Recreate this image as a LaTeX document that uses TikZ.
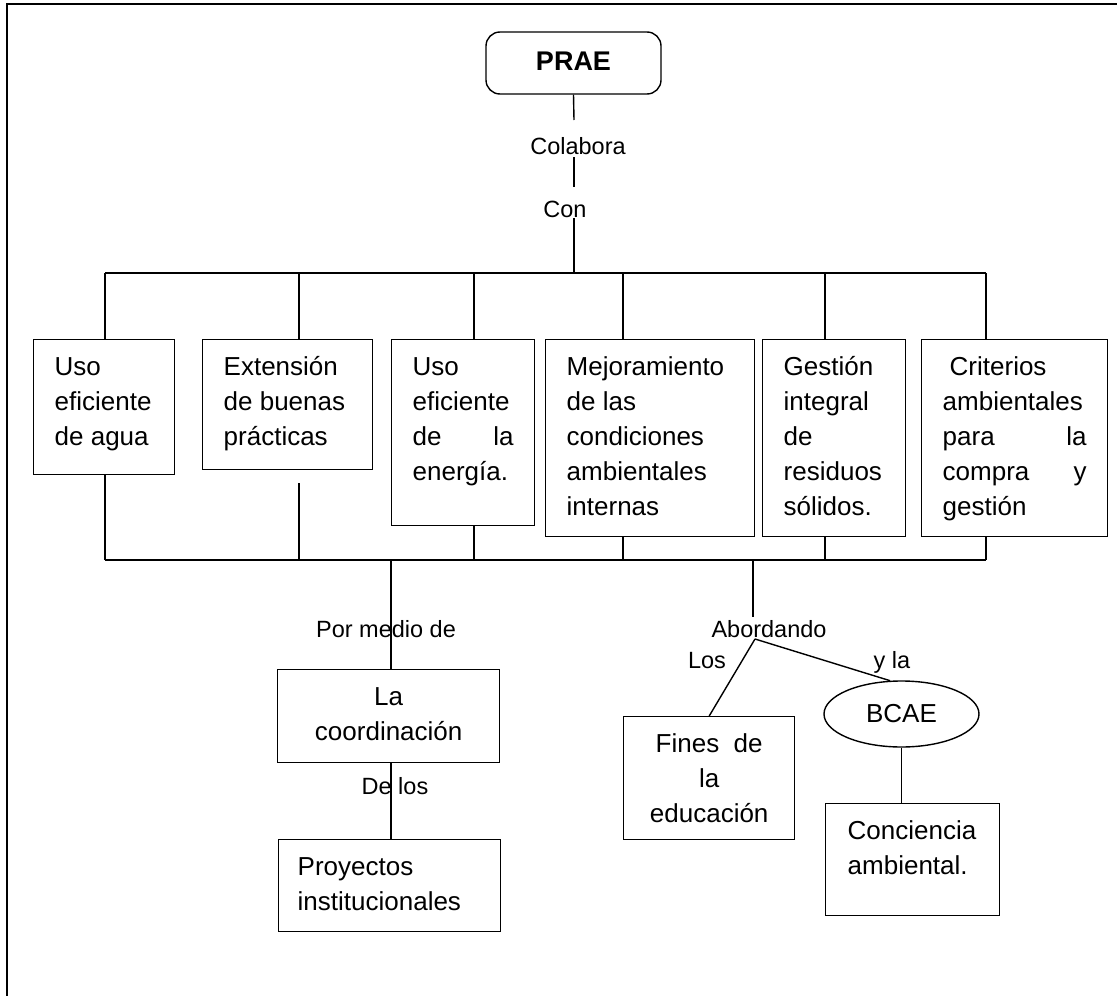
\documentclass[tikz,border=0pt]{standalone}
\usepackage{fontspec}
\setmainfont{Liberation Sans}
\usetikzlibrary{shapes.geometric}
\newcommand{\bxt}[3]{\parbox[t][#1][t]{#2}{#3}}
\tikzset{
  lw/.style={line width=1.4pt},
  txtbox/.style={draw, line width=1.4pt, rectangle, inner xsep=21pt, inner ysep=0pt,
    anchor=north west, font=\fontsize{26}{35}\selectfont},
  lbl/.style={inner sep=0pt, font=\fontsize{23.5}{28}\selectfont},
}
\begin{document}
\begin{tikzpicture}[x=1pt,y=-1pt]
\useasboundingbox (0,0) rectangle (1117,996);
% frame
\draw[line width=2.5pt] (7,996) -- (7,4) -- (1117,4);

% top node
\node[draw, lw, rounded corners=14pt, minimum width=175pt, minimum height=62pt,
  inner sep=0pt, font=\bfseries\fontsize{27}{32}\selectfont] (prae) at (573.5,63) {\raisebox{3pt}{PRAE}};

\node[lbl] (colab) at (578,146) {Colabora};
\node[lbl] (con) at (565,209) {Con};

\coordinate (a1) at (574,120);
\coordinate (a2) at (574,157);
\coordinate (a3) at (574,187);
\coordinate (a4) at (574,218);
\coordinate (top) at (574,273);
\draw[lw] (prae.south) -- (a1);
\draw[lw] (a2) -- (a3);
\draw[lw] (a4) -- (top);

% six boxes
\node[txtbox] (b1) at (33,339) {\bxt{135pt}{99pt}{\raggedright\rule{0pt}{36pt}Uso\\eficiente\\de agua}};
\node[txtbox] (b2) at (202,339) {\bxt{130pt}{128pt}{\raggedright\rule{0pt}{36pt}Extensión\\de buenas\\prácticas}};
\node[txtbox] (b3) at (391,339) {\bxt{186pt}{101pt}{\raggedright\rule{0pt}{36pt}Uso\\eficiente\\de\hfill la\\energía.}};
\node[txtbox] (b4) at (545,339) {\bxt{197pt}{167pt}{\raggedright\rule{0pt}{36pt}Mejoramiento\\de las\\condiciones\\ambientales\\internas}};
\node[txtbox] (b5) at (762,339) {\bxt{197pt}{101pt}{\raggedright\rule{0pt}{36pt}Gestión\\integral\\de\\residuos\\sólidos.}};
\node[txtbox] (b6) at (921,339) {\bxt{197pt}{144pt}{\raggedright\rule{0pt}{36pt}\hspace*{7pt}Criterios\\ambientales\\para\hfill la\\compra\hfill y\\gestión}};

% top bar and drops
\coordinate (t1) at (105,273);
\coordinate (t2) at (299,273);
\coordinate (t3) at (474,273);
\coordinate (t4) at (623,273);
\coordinate (t5) at (825,273);
\coordinate (t6) at (986,273);
\draw[lw] (t1) -- (t6);
\foreach \i in {1,...,6} {\draw[lw] (t\i) -- (t\i |- b\i.north);}

% bottom bar and rises
\coordinate (u1) at (105,560);
\coordinate (u2) at (299,560);
\coordinate (u3) at (474,560);
\coordinate (u4) at (623,560);
\coordinate (u5) at (825,560);
\coordinate (u6) at (986,560);
\coordinate (g2) at (299,483);
\draw[lw] (u1) -- (u6);
\draw[lw] (u1) -- (u1 |- b1.south);
\draw[lw] (u2) -- (g2);
\foreach \i in {3,...,6} {\draw[lw] (u\i) -- (u\i |- b\i.south);}

% left branch
\node[txtbox] (coord) at (277,669) {\bxt{93pt}{180pt}{\centering\rule{0pt}{36pt}La\\coordinación}};
\node[txtbox, inner xsep=19pt] (proy) at (278,839) {\bxt{92pt}{184pt}{\raggedright\rule{0pt}{36pt}Proyectos\\institucionales}};
\coordinate (u7) at (391,560);
\draw[lw] (u7) -- (u7 |- coord.north);
\draw[lw] (u7 |- coord.south) -- (u7 |- proy.north);
\node[lbl] (pmd) at (386,629) {Por medio de};
\node[lbl] (delos) at (395,786) {De los};

% right branch
\node[txtbox] (fines) at (623,716) {\bxt{123pt}{129pt}{\centering\rule{0pt}{36pt}Fines\ \ de\\la\\educación}};
\node[draw, lw, ellipse, minimum width=155pt, minimum height=66pt, inner sep=0pt,
  font=\fontsize{26}{32}\selectfont] (bcae) at (901.5,714) {BCAE};
\node[txtbox, inner xsep=22pt] (conc) at (825,803) {\bxt{112pt}{130pt}{\raggedright\rule{0pt}{36pt}Conciencia\\ambiental.}};

\coordinate (u8) at (753,560);
\coordinate (a5) at (753,617);
\coordinate (br) at (755,639);
\draw[lw] (u8) -- (a5);
\draw[lw] (br) -- (fines.north);
\draw[lw] (br) -- (bcae.109);
\draw[lw] (bcae.south) -- (bcae.south |- conc.north);
\node[lbl] (abord) at (769,629) {Abordando};
\node[lbl] (los) at (707,661) {Los};
\node[lbl] (yla) at (892,662) {y la};
\end{tikzpicture}
\end{document}
